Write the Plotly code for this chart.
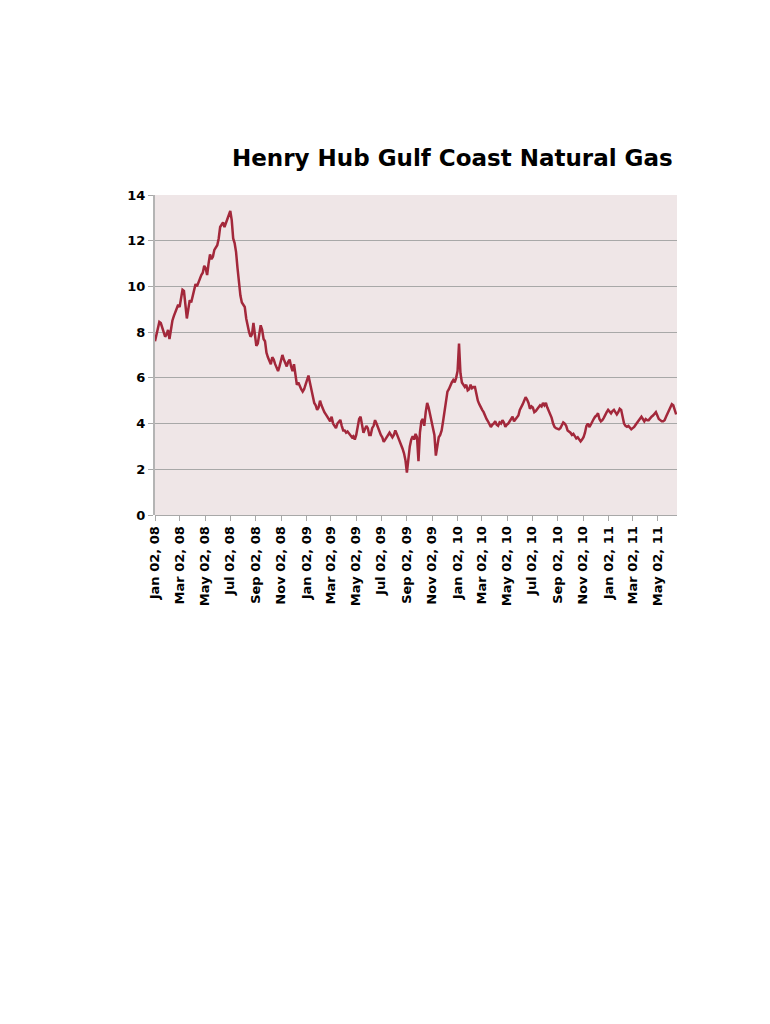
from plotly import graph_objs as go
import pandas as pd

# Henry Hub spot price ($/MMBtu), twice a week from Jan 02, 2008
start_date = "2008-01-02"
price = [
    7.6, 7.9, 8.1, 8.45, 8.4, 8.2, 8.0, 7.8, 7.9, 8.1,
    7.7, 8.2, 8.5, 8.7, 8.9, 9.1, 9.2, 9.1, 9.5, 9.85,
    9.8, 9.3, 8.6, 9.0, 9.4, 9.3, 9.6, 9.9, 10.1, 10.0,
    10.2, 10.4, 10.5, 10.6, 10.9, 10.8, 10.5, 11.0, 11.4, 11.2,
    11.3, 11.6, 11.7, 11.8, 12.1, 12.6, 12.7, 12.8, 12.6, 12.8,
    13.0, 13.1, 13.3, 12.9, 12.1, 11.9, 11.5, 10.8, 10.1, 9.6,
    9.3, 9.2, 9.1, 8.6, 8.2, 8.0, 7.8, 7.9, 8.4, 7.9,
    7.4, 7.5, 7.9, 8.3, 8.1, 7.7, 7.6, 7.1, 6.9, 6.7,
    6.6, 6.9, 6.8, 6.6, 6.4, 6.3, 6.5, 6.7, 7.0, 6.8,
    6.6, 6.5, 6.7, 6.8, 6.5, 6.3, 6.6, 6.0, 5.7, 5.8,
    5.6, 5.5, 5.4, 5.5, 5.7, 5.9, 6.1, 5.8, 5.5, 5.1,
    4.9, 4.8, 4.6, 4.7, 5.0, 4.8, 4.6, 4.5, 4.4, 4.3,
    4.2, 4.1, 4.3, 4.0, 3.9, 3.8, 4.0, 4.1, 4.16, 3.9,
    3.7, 3.7, 3.6, 3.65, 3.55, 3.5, 3.4, 3.45, 3.3, 3.5,
    3.9, 4.2, 4.3, 3.9, 3.6, 3.75, 3.9, 3.8, 3.5, 3.5,
    3.8, 3.9, 4.15, 4.0, 3.8, 3.7, 3.5, 3.4, 3.2, 3.3,
    3.4, 3.45, 3.6, 3.5, 3.4, 3.5, 3.7, 3.55, 3.4, 3.2,
    3.1, 2.9, 2.7, 2.4, 1.85, 2.6, 3.0, 3.3, 3.45, 3.3,
    3.55, 3.4, 2.35, 3.6, 4.1, 4.2, 3.9, 4.5, 4.9, 4.7,
    4.4, 4.2, 3.9, 3.5, 2.6, 3.0, 3.4, 3.5, 3.7, 4.1,
    4.6, 5.0, 5.4, 5.5, 5.7, 5.8, 5.9, 5.8, 6.0, 6.3,
    7.5, 6.2, 5.8, 5.7, 5.6, 5.7, 5.45, 5.5, 5.7, 5.55,
    5.6, 5.6, 5.2, 5.0, 4.85, 4.7, 4.6, 4.5, 4.3, 4.2,
    4.1, 4.0, 3.85, 3.95, 4.0, 4.1, 3.95, 3.9, 4.05, 4.0,
    4.15, 4.05, 3.86, 3.95, 4.0, 4.1, 4.2, 4.3, 4.1, 4.2,
    4.3, 4.35, 4.6, 4.7, 4.85, 5.0, 5.15, 5.05, 4.9, 4.65,
    4.75, 4.7, 4.5, 4.55, 4.65, 4.7, 4.8, 4.75, 4.9, 4.8,
    4.9, 4.7, 4.55, 4.4, 4.25, 4.0, 3.85, 3.8, 3.78, 3.75,
    3.8, 3.9, 4.05, 4.0, 3.9, 3.7, 3.65, 3.6, 3.5, 3.55,
    3.45, 3.35, 3.4, 3.3, 3.22, 3.3, 3.4, 3.6, 3.9, 4.0,
    3.85, 3.95, 4.1, 4.2, 4.3, 4.35, 4.45, 4.2, 4.1, 4.15,
    4.25, 4.4, 4.5, 4.6, 4.5, 4.45, 4.55, 4.6, 4.5, 4.4,
    4.5, 4.65, 4.6, 4.3, 4.0, 3.9, 3.86, 3.9, 3.8, 3.75,
    3.8, 3.85, 3.95, 4.05, 4.15, 4.25, 4.3, 4.2, 4.1, 4.2,
    4.15, 4.15, 4.25, 4.3, 4.35, 4.45, 4.5, 4.35, 4.2, 4.15,
    4.1, 4.1, 4.15, 4.3, 4.45, 4.6, 4.7, 4.85, 4.8, 4.6,
    4.4,
]
dates = pd.date_range(start_date, periods=len(price), freq="84h")

y_ticks = [0, 2, 4, 6, 8, 10, 12, 14]

font = dict(family="DejaVu Sans", size=13, color="black", weight="bold")

fig = go.Figure()
fig.add_trace(
    go.Scatter(x=dates,
               y=price,
               mode="lines",
               line=dict(color="#a3283b", width=2.5),
               showlegend=False))

# page body has an 8px margin, so the figure is a bit smaller than the window
fig.update_layout(
    width=762,
    height=1016,
    margin=dict(l=147, r=93, t=187, b=509),
    paper_bgcolor="white",
    plot_bgcolor="#efe6e7",
    title=dict(text="Henry Hub Gulf Coast Natural Gas",
               font=dict(family="DejaVu Sans", size=23, color="black",
                         weight="bold"),
               x=224 / 762,
               xanchor="left",
               y=1 - 150 / 1016,
               yanchor="middle"),
    font=font,
)

fig.update_xaxes(range=["2008-01-02", "2011-06-17"],
                 tick0="2008-01-02",
                 dtick="M2",
                 tickformat="%b %d, %y",
                 tickangle=-90,
                 tickfont=font,
                 ticks="outside",
                 ticklen=5,
                 tickcolor="#a8a8a8",
                 showgrid=False,
                 showline=False,
                 zeroline=False)

fig.update_yaxes(range=[0, 14],
                 tickvals=y_ticks,
                 tickfont=font,
                 ticks="outside",
                 ticklen=5,
                 tickcolor="#a8a8a8",
                 showgrid=True,
                 gridcolor="#a8a8a8",
                 gridwidth=1.3,
                 showline=True,
                 linecolor="#b4b4b4",
                 linewidth=2,
                 zeroline=True,
                 zerolinecolor="#a8a8a8",
                 zerolinewidth=1.3)

fig.write_html("out.html")
